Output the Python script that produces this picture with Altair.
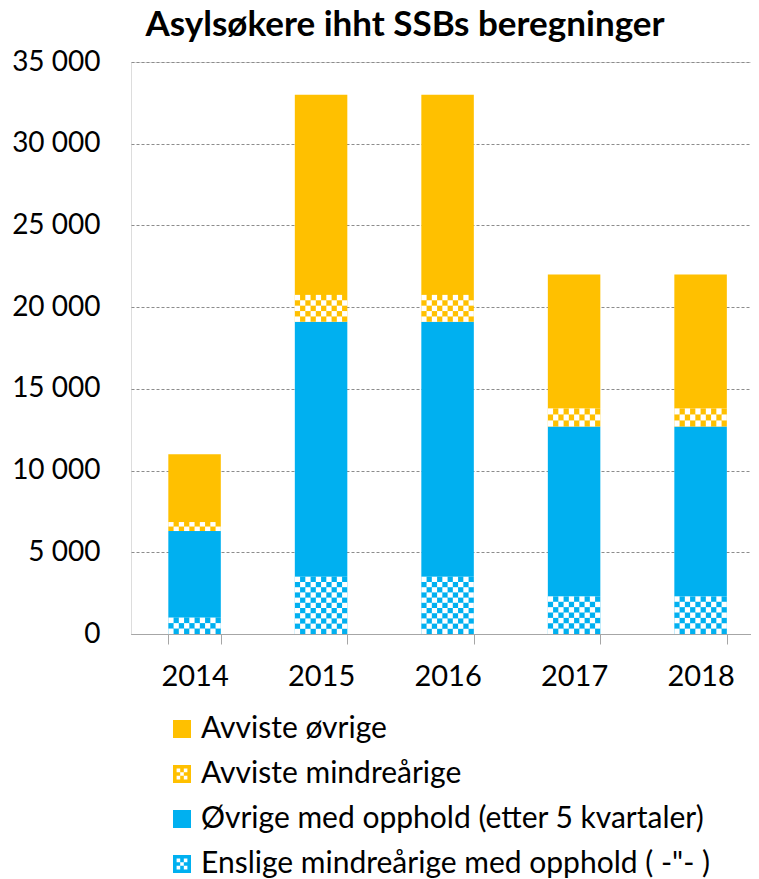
import altair as alt
import pandas as pd

# ---- data ----
years = ["2014", "2015", "2016", "2017", "2018"]
categories = [
    "Avviste øvrige",
    "Avviste mindreårige",
    "Øvrige med opphold (etter 5 kvartaler)",
    'Enslige mindreårige med opphold ( -"- )',
]
avviste_ovrige = [4150, 12250, 12250, 8200, 8200]
avviste_mindrearige = [550, 1650, 1650, 1100, 1100]
ovrige_med_opphold = [5300, 15600, 15600, 10400, 10400]
enslige_mindrearige = [1000, 3500, 3500, 2300, 2300]
y_ticks = [0, 5000, 10000, 15000, 20000, 25000, 30000, 35000]

# ---- styles ----
colors = ["#FFC000", "#FFC000", "#00B0F0", "#00B0F0"]
checkered = [False, True, False, True]
CHECKER_PATH = (
    "M-1,-1H1V-0.6H-1Z M-1,0.6H1V1H-1Z M-1,-0.6H-0.6V0.6H-1Z M0.6,-0.6H1V0.6H0.6Z "
    "M-0.2,-0.6H0.2V-0.2H-0.2Z M-0.6,-0.2H-0.2V0.2H-0.6Z M0.2,-0.2H0.6V0.2H0.2Z M-0.2,0.2H0.2V0.6H-0.2Z"
)
shapes = ["square" if not c else CHECKER_PATH for c in checkered]
FONT = "Lato"
N_COLS = 10          # checker columns per bar
CELL_UNITS = 318     # checker row height in data units (~5 px)

series = {
    categories[0]: avviste_ovrige,
    categories[1]: avviste_mindrearige,
    categories[2]: ovrige_med_opphold,
    categories[3]: enslige_mindrearige,
}
stack_order = [categories[3], categories[2], categories[1], categories[0]]  # bottom -> top

rows = []
for i, yr in enumerate(years):
    base = 0
    for k, cat in enumerate(stack_order):
        v = series[cat][i]
        rows.append(dict(year=yr, cat=cat, value=v, ord=k, bottom=base, top=base + v))
        base += v
df = pd.DataFrame(rows)

# white checker cells drawn over the checkered segments
cells = []
for r in rows:
    if checkered[categories.index(r["cat"])]:
        n = max(1, round(r["value"] / CELL_UNITS))
        h = r["value"] / n
        for k in range(n):
            for c in range(N_COLS):
                if (c + k + n) % 2 == 1:
                    cells.append(dict(year=r["year"], col=c,
                                      y0=r["bottom"] + k * h, y1=r["bottom"] + (k + 1) * h))
cells_df = pd.DataFrame(cells)

x_scale = alt.Scale(domain=years, paddingInner=0.585, paddingOuter=0.243, align=0.607)
x_enc = alt.X(
    "year:N", title=None, scale=x_scale,
    axis=alt.Axis(labelAngle=0, labelFontSize=29, labelColor="#000000", labelFont=FONT,
                  tickBand="extent", tickSize=10, tickColor="#A6A6A6", domainColor="#A6A6A6",
                  labelPadding=18, grid=False),
)
y_scale = alt.Scale(domain=[0, 35000], nice=False, zero=True)
y_axis = alt.Axis(values=y_ticks, title=None, labelFontSize=28, labelColor="#000000", labelFont=FONT,
                  labelExpr="replace(format(datum.value, ','), ',', ' ')",
                  domain=False, ticks=False, labelPadding=31,
                  grid=True, gridColor="#8C8C8C", gridDash=[3, 2], gridWidth=1)

color_scale = alt.Scale(domain=categories, range=colors)
shape_scale = alt.Scale(domain=categories, range=shapes)

legend = alt.Legend(orient="none", legendX=36, legendY=652, direction="vertical", title=None,
                    labelFontSize=30, labelFont=FONT, labelColor="#000000", symbolSize=324,
                    symbolStrokeWidth=0, rowPadding=15, labelOffset=4, labelLimit=700, padding=0)

bars = alt.Chart(df).mark_bar().encode(
    x=x_enc,
    y=alt.Y("value:Q", stack="zero", scale=y_scale, axis=y_axis),
    color=alt.Color("cat:N", scale=color_scale, legend=legend),
    order=alt.Order("ord:Q"),
)

checks = alt.Chart(cells_df).mark_bar(color="white").encode(
    x=x_enc,
    xOffset=alt.XOffset("col:O", scale=alt.Scale(paddingInner=0, paddingOuter=0)),
    y=alt.Y("y0:Q", scale=y_scale, axis=y_axis),
    y2="y1:Q",
)

legend_layer = alt.Chart(df).mark_point(filled=True, size=0, opacity=1).encode(
    x=x_enc,
    y=alt.Y("value:Q", scale=y_scale, axis=y_axis),
    color=alt.Color("cat:N", scale=color_scale, legend=legend),
    shape=alt.Shape("cat:N", scale=shape_scale, legend=legend),
)

chart = alt.layer(bars, checks, legend_layer).properties(
    width=620,
    height=572,
    padding={"left": 123, "top": 54, "right": 0, "bottom": 254},
    autosize=alt.AutoSizeParams(type="none"),
    title=alt.TitleParams("Asylsøkere ihht SSBs beregninger", fontSize=35, fontWeight="bold",
                          font=FONT, color="#000000", anchor="middle", dx=-36, offset=5),
).configure_view(stroke=None).configure(font=FONT)

chart.save("out.html", embed_options={"renderer": "svg", "actions": False})
